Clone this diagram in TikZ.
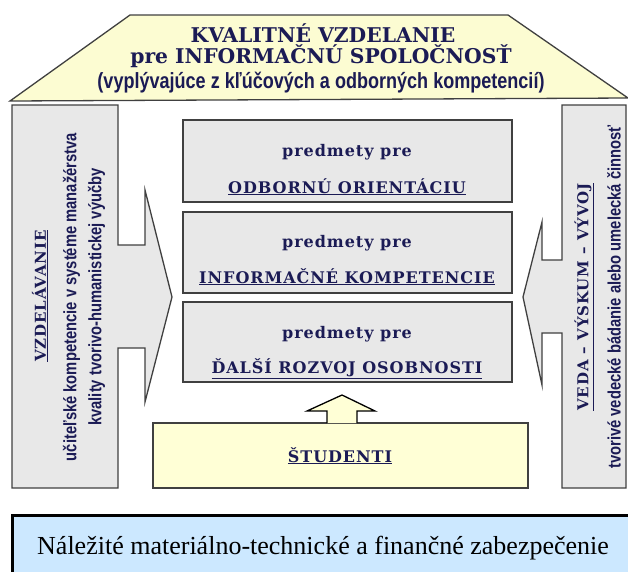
\documentclass[tikz,border=0pt]{standalone}
\usepackage{fontspec}
\setmainfont{Liberation Serif}
\newfontfamily\headfont{DejaVu Serif}
\newfontfamily\boxfont[LetterSpace=6]{DejaVu Serif}
\newfontfamily\narrowfont[FakeStretch=0.82]{Liberation Sans}
\definecolor{navy}{HTML}{1B1B55}
\definecolor{roofyellow}{HTML}{FCFCD2}
\definecolor{studyellow}{HTML}{FFFFD6}
\definecolor{pillargray}{HTML}{E8E8E8}
\definecolor{baseblue}{HTML}{CCE8FF}

\begin{document}
\begin{tikzpicture}[x=1pt,y=-1pt,
  block/.style={draw=black!75,line width=1.3pt,line join=miter},
  headtxt/.style={text=navy,font=\headfont\bfseries\fontsize{20.3}{24}\selectfont,inner sep=0pt,anchor=base},
  subtxt/.style={text=navy,font=\narrowfont\bfseries\fontsize{22}{26}\selectfont,inner sep=0pt,anchor=base},
  boxtxt/.style={text=navy,font=\boxfont\bfseries\fontsize{16}{19}\selectfont,inner sep=0pt,anchor=base},
  sidehead/.style={text=navy,font=\boxfont\bfseries\fontsize{15}{18}\selectfont,inner sep=0pt,rotate=90},
  sidetxt/.style={text=navy,font=\narrowfont\bfseries\fontsize{18}{25}\selectfont,inner sep=0pt,rotate=90,align=center}]
  \clip (0,0) rectangle (628,571);
  % strecha
  \draw[block,fill=roofyellow] (10,101) -- (130,15) -- (508,15) -- (628,98) -- cycle;
  \node (kval) at (323,42) [headtxt] {KVALITNÉ VZDELANIE};
  \node (spol) at (321,63) [headtxt] {pre INFORMAČNÚ SPOLOČNOSŤ};
  \node (komp) at (321,88) [subtxt] {(vyplývajúce z kľúčových a odborných kompetencií)};
  % lavy stlp so sipkou
  \draw[block,fill=pillargray] (12,105) -- (118,105) -- (118,245) -- (145,245) -- (145,190)
    -- (172,297) -- (145,402) -- (145,348) -- (118,348) -- (118,488) -- (12,488) -- cycle;
  \node (vzd) at (40,296) [sidehead] {\underline{VZDELÁVANIE}};
  \node (vzdtext) at (84,297) [sidetxt] {učiteľské kompetencie v systéme manažérstva\\kvality tvorivo-humanistickej výučby};
  % pravy stlp so sipkou
  \draw[block,fill=pillargray] (626,105) -- (562,105) -- (562,260) -- (542,260) -- (542,222)
    -- (523,297) -- (542,385) -- (542,333) -- (562,333) -- (562,488) -- (626,488) -- cycle;
  \node (veda) at (584,297) [sidehead] {\underline{VEDA – VÝSKUM – VÝVOJ}};
  \node (vedatext) at (614,297) [sidetxt] {tvorivé vedecké bádanie alebo umelecká činnosť};
  % predmety
  \draw[block,fill=pillargray] (183,120) rectangle (512,202);
  \draw[block,fill=pillargray] (183,212) rectangle (512,293);
  \draw[block,fill=pillargray] (183,302) rectangle (512,382);
  \node (pre1) at (347,156) [boxtxt] {predmety pre};
  \node (odb) at (347,193) [boxtxt] {\underline{ODBORNÚ ORIENTÁCIU}};
  \node (pre2) at (347,247) [boxtxt] {predmety pre};
  \node (inf) at (347,283) [boxtxt] {\underline{INFORMAČNÉ KOMPETENCIE}};
  \node (pre3) at (347,338) [boxtxt] {predmety pre};
  \node (dal) at (347,373) [boxtxt] {\underline{ĎALŠÍ ROZVOJ OSOBNOSTI}};
  % studenti
  \draw[block,fill=studyellow] (153,423) rectangle (528,488);
  \node (stud) at (340,462) [boxtxt] {\underline{ŠTUDENTI}};
  \draw[draw=black,line width=1.3pt,fill=studyellow] (327,423) -- (327,411) -- (307,411) -- (342,395)
    -- (375,411) -- (357,411) -- (357,423);
  % zaklad
  \draw[draw=black,line width=3pt,fill=baseblue] (12,515) rectangle (640,600);
  \node (zakl) at (323,554) [font=\fontsize{26}{30}\selectfont,inner sep=0pt,anchor=base] {Náležité materiálno-technické a finančné zabezpečenie};
\end{tikzpicture}
\end{document}
